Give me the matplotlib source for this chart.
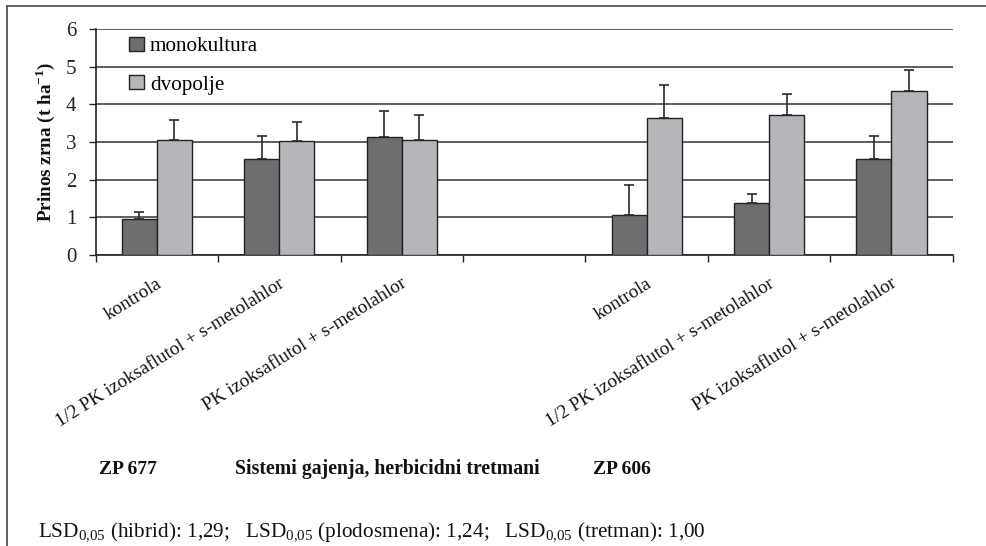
import numpy as np
import matplotlib
matplotlib.use("Agg")
import matplotlib.pyplot as plt
from matplotlib.lines import Line2D
from matplotlib.patches import Patch

plt.rcParams['font.family'] = ['Liberation Serif', 'DejaVu Serif']
plt.rcParams['mathtext.fontset'] = 'custom'
plt.rcParams['mathtext.rm'] = 'Liberation Serif'
plt.rcParams['mathtext.bf'] = 'Liberation Serif:bold'

categories = ["kontrola", "1/2 PK izoksaflutol + s-metolahlor", "PK izoksaflutol + s-metolahlor",
              "", "kontrola", "1/2 PK izoksaflutol + s-metolahlor", "PK izoksaflutol + s-metolahlor"]
mono = [0.96, 2.56, 3.12, np.nan, 1.07, 1.39, 2.56]
mono_err = [0.19, 0.59, 0.71, np.nan, 0.79, 0.24, 0.60]
dvo = [3.06, 3.02, 3.05, np.nan, 3.64, 3.72, 4.36]
dvo_err = [0.53, 0.51, 0.67, np.nan, 0.87, 0.55, 0.55]
series_names = ["monokultura", "dvopolje"]
yticks = [0, 1, 2, 3, 4, 5, 6]
hybrids = ["ZP 677", "ZP 606"]
xtitle = "Sistemi gajenja, herbicidni tretmani"
ytitle = "Prinos zrna (t ha$^{\\mathbf{-1}}$)"
footnote = ("LSD$_{0{,}05}$ (hibrid): 1,29;   LSD$_{0{,}05}$ (plodosmena): 1,24;   "
            "LSD$_{0{,}05}$ (tretman): 1,00")

c_dark = "#6e6e70"
c_light = "#b5b6b9"
edge = "#222222"

fig = plt.figure(figsize=(9.87, 5.46), dpi=100)
renderer = fig.canvas.get_renderer()


def fit(txt, target_px):
    """Scale font size of a text artist so its unrotated width equals target_px."""
    r = txt.get_rotation()
    txt.set_rotation(0)
    for _ in range(3):
        w = txt.get_window_extent(renderer).width
        txt.set_fontsize(txt.get_fontsize() * target_px / w)
    txt.set_rotation(r)


ax = fig.add_axes([95.7/987, 1-255/546, (952.7-95.7)/987, (255-29)/546])

x = np.arange(len(categories))
w = 0.286
valid = [i for i in range(len(categories)) if not np.isnan(mono[i])]
xv = x[valid]
mv = np.array(mono)[valid]; me = np.array(mono_err)[valid]
dv = np.array(dvo)[valid]; de = np.array(dvo_err)[valid]

ax.bar(xv - w/2, mv, w, color=c_dark, edgecolor=edge, linewidth=1.0, zorder=3)
ax.bar(xv + w/2, dv, w, color=c_light, edgecolor=edge, linewidth=1.0, zorder=3)
ax.errorbar(xv - w/2, mv, yerr=[np.zeros_like(me), me], fmt='none', ecolor='#2a2a2a',
            elinewidth=1.2, capsize=3.3, capthick=1.2, zorder=4)
ax.errorbar(xv + w/2, dv, yerr=[np.zeros_like(de), de], fmt='none', ecolor='#2a2a2a',
            elinewidth=1.2, capsize=3.3, capthick=1.2, zorder=4)

ax.set_xlim(-0.5, len(categories) - 0.5)
ax.set_ylim(0, 6)
ax.set_yticks(yticks)
ax.set_yticklabels([str(v) for v in yticks], fontsize=15)
ax.tick_params(axis='y', direction='out', length=5, width=1, pad=9, colors='#222222')
ax.yaxis.grid(True, color='#333333', linewidth=1.1)
ax.set_axisbelow(True)

ax.set_xticks(x)
ax.set_xticks(np.arange(-0.5, len(categories)), minor=True)
ax.tick_params(axis='x', which='major', length=0)
ax.tick_params(axis='x', which='minor', direction='out', length=5, width=1, color='#222222')
ax.set_xticklabels([])

probe = fig.text(0, 0, categories[1], fontsize=14)
fit(probe, 265)
xl_fs = probe.get_fontsize()
probe.remove()
for i, lab in enumerate(categories):
    if lab:
        ax.annotate(lab, xy=(x[i], 0), xycoords=('data', 'axes fraction'),
                    xytext=(-1, -20), textcoords='offset pixels',
                    rotation=32, ha='right', va='top', rotation_mode='anchor',
                    fontsize=xl_fs, color='#111111')

for s in ['top', 'right']:
    ax.spines[s].set_visible(False)
for s in ['left', 'bottom']:
    ax.spines[s].set_color('#222222')
    ax.spines[s].set_linewidth(1.2)

yl = fig.text(45/987, 1-142/546, ytitle, fontsize=14, fontweight='bold', rotation=90,
              ha='center', va='center', color='#111111')
fit(yl, 160)

handles = [Patch(facecolor=c_dark, edgecolor=edge, linewidth=1.0),
           Patch(facecolor=c_light, edgecolor=edge, linewidth=1.0)]
probe = fig.text(0, 0, series_names[0], fontsize=14)
fit(probe, 108)
lg_fs = probe.get_fontsize()
probe.remove()
leg = ax.legend(handles, series_names, loc='upper left',
                bbox_to_anchor=((129-95.7)/857, 1-(37-29)/226),
                frameon=False, fontsize=lg_fs, handlelength=0.7, handleheight=0.65,
                handletextpad=0.3, labelspacing=0.9, borderpad=0, borderaxespad=0)

fig.text(128/987, 1-469/546, hybrids[0], fontsize=14, fontweight='bold',
         ha='center', va='center', color='#111111')
st = fig.text(387.5/987, 1-469/546, xtitle, fontsize=14, fontweight='bold',
              ha='center', va='center', color='#111111')
fit(st, 305)
fig.text(622/987, 1-469/546, hybrids[1], fontsize=14, fontweight='bold',
         ha='center', va='center', color='#111111')

ft = fig.text(38/987, 1-532/546, footnote, fontsize=14, ha='left', va='center', color='#111111')
fit(ft, 669)

fig.add_artist(Line2D([7/987, 1], [1-6/546, 1-6/546], color='#555555', linewidth=1.3,
                      transform=fig.transFigure))
fig.add_artist(Line2D([7/987, 7/987], [0, 1-6/546], color='#555555', linewidth=1.3,
                      transform=fig.transFigure))

fig.savefig("out.png", dpi=100)
